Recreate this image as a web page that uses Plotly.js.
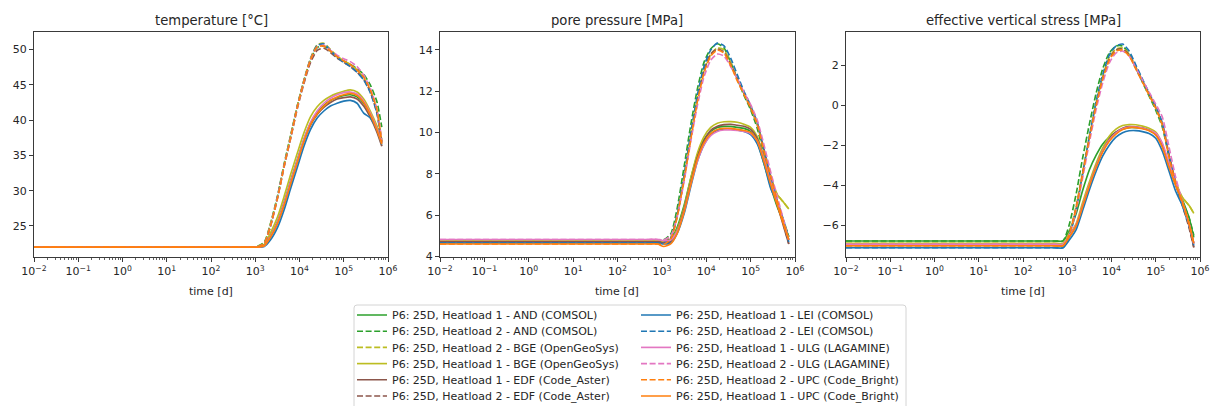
<!DOCTYPE html>
<html><head><meta charset="utf-8">
<script src="https://cdn.plot.ly/plotly-3.0.1.min.js"></script>
<style>html,body{margin:0;padding:0;background:#fff;}#chart{width:1211px;height:406px;}</style>
</head><body><div id="chart"></div>
<script>
// time [d]
const time = [0.01, 500, 800, 1100, 1600, 2200, 3200, 4500, 6300, 8900, 12600, 17800, 25100, 35500, 50100, 70800, 100000, 141000, 200000, 282000, 398000, 562000, 724000];

// temperature [°C]
const temp_AND_H1 = [22, 22, 22, 22, 22.3, 23.6, 25.7, 28.4, 31.4, 34.4, 37.3, 39.6, 41.1, 42.1, 42.8, 43.2, 43.5, 43.6, 43.3, 42.4, 40.9, 39.0, 37.0];
const temp_AND_H2 = [22, 22, 22, 22.1, 22.7, 25.3, 29.3, 33.8, 37.8, 42.0, 45.6, 48.6, 50.3, 50.5, 49.8, 49.0, 48.4, 47.9, 47.3, 46.5, 45.0, 42.6, 39.0];
const temp_BGE_H2 = [22, 22, 22, 22.1, 22.6, 25.2, 29.2, 33.7, 37.8, 42.0, 45.7, 48.8, 50.7, 50.9, 50.0, 49.1, 48.4, 47.9, 47.1, 46.0, 44.2, 41.4, 37.0];
const temp_BGE_H1 = [22, 22, 22, 22, 22.4, 24.0, 26.3, 29.2, 32.3, 35.3, 38.2, 40.5, 41.9, 42.8, 43.4, 43.8, 44.1, 44.3, 44.0, 43.0, 41.3, 39.2, 37.3];
const temp_EDF_H1 = [22, 22, 22, 22, 22.2, 23.4, 25.4, 28.0, 31.0, 34.0, 37.0, 39.3, 40.8, 41.8, 42.5, 43.0, 43.2, 43.3, 43.0, 42.0, 40.4, 38.3, 36.3];
const temp_EDF_H2 = [22, 22, 22, 22, 22.5, 24.9, 29.0, 33.4, 37.4, 41.6, 45.2, 48.2, 49.9, 50.2, 49.6, 48.8, 48.2, 47.6, 46.8, 45.8, 44.0, 41.0, 36.4];
const temp_LEI_H1 = [22, 22, 22, 22, 22.1, 23.0, 24.8, 27.3, 30.3, 33.3, 36.3, 38.7, 40.3, 41.3, 42.0, 42.4, 42.7, 42.8, 42.4, 41.0, 40.3, 38.6, 36.5];
const temp_LEI_H2 = [22, 22, 22, 22, 22.5, 25.0, 29.2, 33.6, 37.6, 41.9, 45.6, 48.7, 50.6, 50.8, 49.9, 48.9, 48.2, 47.6, 46.8, 45.7, 43.9, 41.0, 36.8];
const temp_ULG_H1 = [22, 22, 22, 22, 22.2, 23.5, 25.6, 28.3, 31.3, 34.3, 37.3, 39.7, 41.3, 42.4, 43.1, 43.6, 43.9, 44.0, 43.7, 42.7, 41.0, 38.8, 36.8];
const temp_ULG_H2 = [22, 22, 22, 22, 22.5, 25.0, 29.1, 33.5, 37.5, 41.8, 45.5, 48.6, 50.4, 50.6, 49.9, 49.2, 48.7, 48.3, 47.6, 46.4, 44.5, 41.6, 37.0];
const temp_UPC_H2 = [22, 22, 22, 22, 22.5, 25.0, 29.0, 33.5, 37.5, 41.8, 45.5, 48.6, 50.4, 50.5, 49.8, 49.0, 48.4, 47.9, 47.1, 46.1, 44.3, 41.5, 36.8];
const temp_UPC_H1 = [22, 22, 22, 22, 22.2, 23.4, 25.4, 28.0, 31.0, 34.0, 37.0, 39.4, 40.9, 42.0, 42.8, 43.3, 43.6, 43.8, 43.5, 42.5, 40.8, 38.6, 36.6];

// pore pressure [MPa]
const pp_AND_H1 = [4.8, 4.8, 4.8, 4.75, 4.85, 5.4, 6.5, 7.8, 8.9, 9.65, 10.05, 10.25, 10.3, 10.3, 10.25, 10.2, 10.05, 9.55, 8.5, 7.4, 6.4, 5.6, 4.95];
const pp_AND_H2 = [4.8, 4.8, 4.8, 4.8, 5.1, 6.3, 8.4, 10.4, 12.1, 13.4, 14.05, 14.3, 14.1, 13.4, 12.6, 11.8, 11.1, 10.2, 8.9, 7.7, 6.5, 5.7, 4.95];
const pp_BGE_H2 = [4.75, 4.75, 4.75, 4.74, 4.95, 6.0, 7.9, 9.9, 11.7, 13.0, 13.8, 14.1, 14.0, 13.4, 12.6, 11.9, 11.2, 10.4, 9.1, 7.9, 7.0, 6.6, 6.3];
const pp_BGE_H1 = [4.75, 4.75, 4.75, 4.7, 4.82, 5.3, 6.4, 7.8, 9.0, 9.8, 10.25, 10.45, 10.52, 10.53, 10.5, 10.4, 10.25, 9.8, 8.8, 7.7, 7.0, 6.6, 6.3];
const pp_EDF_H1 = [4.7, 4.7, 4.7, 4.65, 4.72, 5.2, 6.3, 7.6, 8.8, 9.6, 10.1, 10.3, 10.38, 10.4, 10.35, 10.3, 10.15, 9.7, 8.7, 7.5, 6.5, 5.4, 4.6];
const pp_EDF_H2 = [4.7, 4.7, 4.7, 4.68, 4.9, 5.9, 7.8, 9.8, 11.6, 13.0, 13.8, 14.05, 13.9, 13.3, 12.6, 11.9, 11.2, 10.4, 9.1, 7.8, 6.6, 5.5, 4.6];
const pp_LEI_H1 = [4.65, 4.65, 4.65, 4.6, 4.65, 5.1, 6.1, 7.4, 8.6, 9.4, 9.9, 10.1, 10.18, 10.18, 10.12, 10.05, 9.9, 9.45, 8.5, 7.3, 6.6, 5.6, 4.7];
const pp_LEI_H2 = [4.65, 4.65, 4.65, 4.63, 4.9, 6.0, 8.0, 10.0, 11.8, 13.2, 14.0, 14.33, 14.2, 13.6, 12.8, 12.0, 11.3, 10.5, 9.2, 7.9, 6.7, 5.7, 4.8];
const pp_ULG_H1 = [4.82, 4.82, 4.82, 4.76, 4.8, 5.2, 6.2, 7.5, 8.6, 9.4, 9.85, 10.05, 10.12, 10.13, 10.1, 10.05, 9.95, 9.6, 8.7, 7.6, 6.6, 5.6, 4.8];
const pp_ULG_H2 = [4.82, 4.82, 4.82, 4.8, 5.0, 5.9, 7.7, 9.6, 11.3, 12.7, 13.5, 13.8, 13.7, 13.2, 12.6, 11.95, 11.35, 10.6, 9.4, 8.1, 6.9, 5.7, 4.8];
const pp_UPC_H2 = [4.6, 4.6, 4.6, 4.58, 4.85, 5.9, 7.8, 9.7, 11.5, 12.9, 13.7, 14.0, 13.85, 13.25, 12.5, 11.85, 11.2, 10.4, 9.1, 7.9, 6.7, 5.6, 4.8];
const pp_UPC_H1 = [4.6, 4.6, 4.6, 4.48, 4.62, 5.1, 6.2, 7.5, 8.7, 9.5, 9.95, 10.15, 10.2, 10.2, 10.15, 10.1, 10.0, 9.6, 8.6, 7.5, 6.5, 5.5, 4.8];

// effective vertical stress [MPa]
const evs_AND_H1 = [-6.78, -6.78, -6.78, -6.3, -5.4, -4.3, -3.2, -2.5, -1.95, -1.6, -1.35, -1.2, -1.12, -1.12, -1.15, -1.25, -1.45, -2.0, -3.0, -3.9, -4.7, -5.6, -6.6];
const evs_AND_H2 = [-6.78, -6.78, -6.78, -6.0, -4.4, -2.7, -0.9, 0.6, 1.8, 2.6, 2.95, 2.95, 2.55, 1.85, 1.15, 0.45, -0.25, -1.1, -2.6, -3.9, -4.8, -5.6, -6.5];
const evs_BGE_H2 = [-6.9, -6.9, -6.9, -6.4, -5.0, -3.4, -1.5, 0.1, 1.4, 2.4, 2.8, 2.85, 2.55, 1.9, 1.2, 0.5, -0.15, -1.0, -2.5, -3.8, -4.6, -5.0, -5.4];
const evs_BGE_H1 = [-6.9, -6.9, -6.9, -6.5, -5.9, -4.9, -3.8, -2.9, -2.15, -1.55, -1.2, -1.02, -0.97, -0.98, -1.05, -1.15, -1.35, -1.95, -3.0, -3.9, -4.6, -5.0, -5.4];
const evs_EDF_H1 = [-7.0, -7.0, -7.0, -6.6, -6.0, -5.1, -4.0, -3.05, -2.3, -1.7, -1.35, -1.15, -1.07, -1.08, -1.15, -1.25, -1.45, -2.05, -3.05, -4.0, -4.9, -6.0, -7.1];
const evs_EDF_H2 = [-7.0, -7.0, -7.0, -6.5, -5.1, -3.5, -1.6, 0.0, 1.3, 2.3, 2.75, 2.8, 2.5, 1.85, 1.2, 0.55, -0.1, -0.95, -2.5, -3.9, -5.0, -6.1, -7.1];
const evs_LEI_H1 = [-7.12, -7.12, -7.12, -6.75, -6.2, -5.3, -4.2, -3.3, -2.55, -2.0, -1.6, -1.38, -1.28, -1.27, -1.32, -1.42, -1.65, -2.3, -3.3, -4.3, -5.0, -5.9, -6.9];
const evs_LEI_H2 = [-7.12, -7.12, -7.12, -6.6, -5.2, -3.5, -1.5, 0.2, 1.5, 2.5, 2.95, 3.05, 2.7, 2.0, 1.3, 0.6, -0.05, -0.9, -2.5, -3.9, -5.0, -6.0, -7.0];
const evs_ULG_H1 = [-6.95, -6.95, -6.95, -6.55, -5.95, -5.05, -3.95, -3.05, -2.3, -1.75, -1.4, -1.18, -1.1, -1.1, -1.15, -1.25, -1.4, -1.9, -2.9, -3.9, -4.8, -5.9, -6.9];
const evs_ULG_H2 = [-6.95, -6.95, -6.95, -6.5, -5.2, -3.7, -1.8, -0.2, 1.1, 2.1, 2.6, 2.7, 2.45, 1.85, 1.25, 0.65, 0.05, -0.6, -2.1, -3.6, -4.8, -5.9, -6.9];
const evs_UPC_H2 = [-7.02, -7.02, -7.02, -6.5, -5.1, -3.5, -1.6, 0.0, 1.3, 2.25, 2.7, 2.75, 2.45, 1.8, 1.15, 0.5, -0.15, -1.0, -2.6, -3.9, -4.9, -5.9, -6.9];
const evs_UPC_H1 = [-7.02, -7.02, -7.02, -6.6, -6.0, -5.1, -4.0, -3.1, -2.35, -1.8, -1.45, -1.22, -1.12, -1.12, -1.18, -1.28, -1.5, -2.1, -3.1, -4.0, -4.8, -5.9, -6.9];

// series labels (legend order)
const seriesNames = [
  'P6: 25D, Heatload 1 - AND (COMSOL)',
  'P6: 25D, Heatload 2 - AND (COMSOL)',
  'P6: 25D, Heatload 2 - BGE (OpenGeoSys)',
  'P6: 25D, Heatload 1 - BGE (OpenGeoSys)',
  'P6: 25D, Heatload 1 - EDF (Code_Aster)',
  'P6: 25D, Heatload 2 - EDF (Code_Aster)',
  'P6: 25D, Heatload 1 - LEI (COMSOL)',
  'P6: 25D, Heatload 2 - LEI (COMSOL)',
  'P6: 25D, Heatload 1 - ULG (LAGAMINE)',
  'P6: 25D, Heatload 2 - ULG (LAGAMINE)',
  'P6: 25D, Heatload 2 - UPC (Code_Bright)',
  'P6: 25D, Heatload 1 - UPC (Code_Bright)'
];
const seriesColors = ['#2ca02c','#2ca02c','#bcbd22','#bcbd22','#8c564b','#8c564b','#1f77b4','#1f77b4','#e377c2','#e377c2','#ff7f0e','#ff7f0e'];
const seriesDashed = [false,true,true,false,false,true,false,true,false,true,true,false];

const panelTitles = ['temperature [°C]', 'pore pressure [MPa]', 'effective vertical stress [MPa]'];
const xAxisTitle = 'time [d]';
const xTickVals = [0.01, 0.1, 1, 10, 100, 1000, 10000, 100000, 1000000];
const xTickText = ['10<sup>−2</sup>', '10<sup>−1</sup>', '10<sup>0</sup>', '10<sup>1</sup>', '10<sup>2</sup>', '10<sup>3</sup>', '10<sup>4</sup>', '10<sup>5</sup>', '10<sup>6</sup>'];

const panelData = [
  [temp_AND_H1, temp_AND_H2, temp_BGE_H2, temp_BGE_H1, temp_EDF_H1, temp_EDF_H2, temp_LEI_H1, temp_LEI_H2, temp_ULG_H1, temp_ULG_H2, temp_UPC_H2, temp_UPC_H1],
  [pp_AND_H1, pp_AND_H2, pp_BGE_H2, pp_BGE_H1, pp_EDF_H1, pp_EDF_H2, pp_LEI_H1, pp_LEI_H2, pp_ULG_H1, pp_ULG_H2, pp_UPC_H2, pp_UPC_H1],
  [evs_AND_H1, evs_AND_H2, evs_BGE_H2, evs_BGE_H1, evs_EDF_H1, evs_EDF_H2, evs_LEI_H1, evs_LEI_H2, evs_ULG_H1, evs_ULG_H2, evs_UPC_H2, evs_UPC_H1]
];

const W = 1211, H = 406;
const FONT = 'DejaVu Sans, sans-serif';
const TXT = '#262626';
const AX = '#3a3a3a';

const xPix = [[34, 388], [440, 795], [846, 1200]];
const yTop = 32, yBot = 257;
const yRanges = [[20.6, 52.5], [3.97, 14.87], [-7.58, 3.65]];
const yDticks = [5, 2, 2];

const traces = [];
for (let p = 0; p < 3; p++) {
  const sfx = p === 0 ? '' : String(p + 1);
  for (let s = 0; s < 12; s++) {
    const legIdx = (s % 6) + 1;
    traces.push({
      x: time, y: panelData[p][s],
      xaxis: 'x' + sfx, yaxis: 'y' + sfx,
      type: 'scatter', mode: 'lines',
      name: seriesNames[s],
      legendgroup: 'g' + s,
      legend: legIdx === 1 ? 'legend' : 'legend' + legIdx,
      showlegend: p === 0,
      line: {color: seriesColors[s], width: 1.65, dash: seriesDashed[s] ? '6px,2.6px' : 'solid', shape: 'spline', smoothing: 0.6}
    });
  }
}

const layout = {
  width: W, height: H,
  margin: {l: 0, r: 0, t: 0, b: 0, autoexpand: false},
  paper_bgcolor: '#fff', plot_bgcolor: '#fff',
  font: {family: FONT, size: 11, color: TXT},
  hovermode: false,
  annotations: [],
  shapes: []
};

for (let p = 0; p < 3; p++) {
  const sfx = p === 0 ? '' : String(p + 1);
  layout['xaxis' + sfx] = {
    domain: [xPix[p][0] / W, xPix[p][1] / W],
    anchor: 'y' + sfx,
    type: 'log', range: [-2, 6],
    tickmode: 'array', tickvals: xTickVals, ticktext: xTickText,
    ticklabeloverflow: 'allow',
    showgrid: false, zeroline: false,
    showline: true, mirror: true, linecolor: AX, linewidth: 1,
    ticks: 'outside', ticklen: 4, tickwidth: 1, tickcolor: AX,
    tickfont: {size: 11, color: TXT},
    minor: {ticks: 'outside', ticklen: 2, tickwidth: 0.8, tickcolor: AX, dtick: 'D1', showgrid: false}
  };
  layout['yaxis' + sfx] = {
    domain: [1 - yBot / H, 1 - yTop / H],
    anchor: 'x' + sfx,
    range: yRanges[p], dtick: yDticks[p], tick0: 0,
    showgrid: false, zeroline: false,
    showline: true, mirror: true, linecolor: AX, linewidth: 1,
    ticks: 'outside', ticklen: 4, tickwidth: 1, tickcolor: AX,
    tickfont: {size: 11, color: TXT}
  };
  layout.annotations.push({
    text: panelTitles[p], xref: 'paper', yref: 'paper',
    x: (xPix[p][0] + xPix[p][1]) / 2 / W, y: 1 - 20.7 / H,
    xanchor: 'center', yanchor: 'middle', showarrow: false,
    font: {size: 13.2, color: TXT}
  });
  layout.annotations.push({
    text: xAxisTitle, xref: 'paper', yref: 'paper',
    x: (xPix[p][0] + xPix[p][1]) / 2 / W, y: 1 - 291.5 / H,
    xanchor: 'center', yanchor: 'middle', showarrow: false,
    font: {size: 11, color: TXT}
  });
}

// legends: 6 rows, each with two entries (left column, right column)
const rowCenters = [315, 331.2, 347.4, 363.6, 379.8, 396];
for (let k = 0; k < 6; k++) {
  const key = k === 0 ? 'legend' : 'legend' + (k + 1);
  layout[key] = {
    x: 352 / W, xanchor: 'left',
    y: 1 - (rowCenters[k] - 14.5) / H, yanchor: 'top',
    orientation: 'h', entrywidth: 239, entrywidthmode: 'pixels',
    bgcolor: 'rgba(0,0,0,0)', borderwidth: 0,
    font: {size: 11, color: TXT, family: FONT},
    traceorder: 'normal'
  };
}

// legend frame (rounded box)
const fx0 = 354 / W, fx1 = 906 / W, fy0 = 1 - 305 / H, fyb = -0.2, rx = 3 / W, ry = 3 / H;
layout.shapes.push({
  type: 'path', xref: 'paper', yref: 'paper', layer: 'below',
  path: `M ${fx0 + rx},${fy0} L ${fx1 - rx},${fy0} Q ${fx1},${fy0} ${fx1},${fy0 - ry} L ${fx1},${fyb} L ${fx0},${fyb} L ${fx0},${fy0 - ry} Q ${fx0},${fy0} ${fx0 + rx},${fy0} Z`,
  line: {color: '#d4d4d4', width: 1}, fillcolor: 'rgba(0,0,0,0)'
});

Plotly.newPlot('chart', traces, layout, {staticPlot: true, displayModeBar: false});
</script>
</body></html>
